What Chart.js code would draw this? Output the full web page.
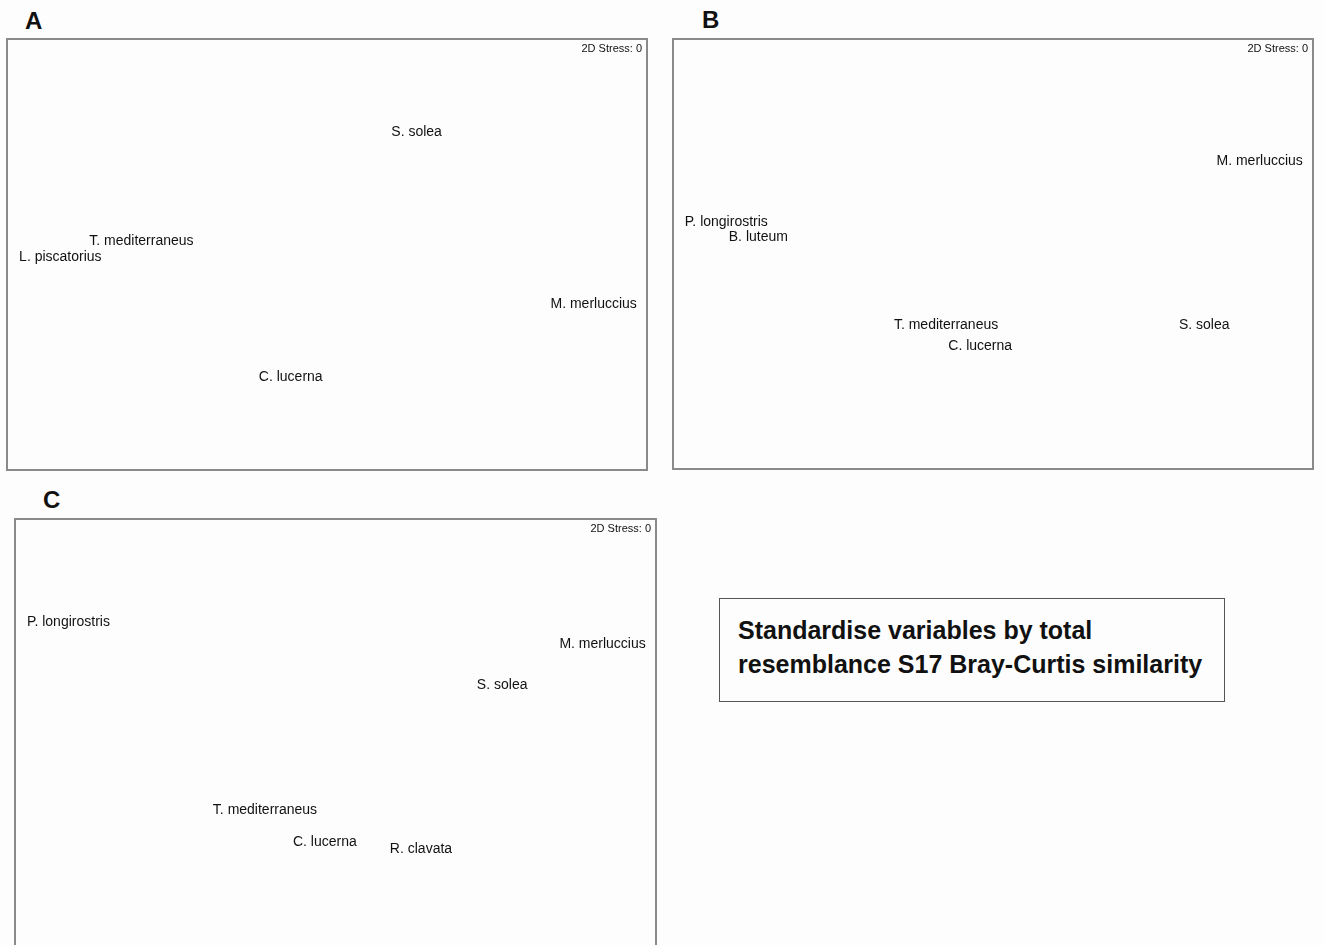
<!DOCTYPE html>
<html>
<head>
<meta charset="utf-8">
<title>nMDS ordinations</title>
<script src="https://cdn.jsdelivr.net/npm/chart.js@4/dist/chart.umd.min.js"></script>
<style>
  html, body { margin: 0; padding: 0; background: #fdfdfd; overflow: hidden; }
  body { width: 1324px; height: 945px; position: relative; font-family: "Liberation Sans", Arial, sans-serif; }
  .panel { position: absolute; }
  .letter { position: absolute; font-weight: bold; font-size: 24px; line-height: 24px; color: #111; }
  .note {
    position: absolute; left: 719px; top: 598px; width: 506px; height: 104px;
    border: 1.5px solid #555; box-sizing: border-box;
    font-weight: bold; font-size: 25px; line-height: 34px; color: #111;
    padding: 14px 0 0 18px; white-space: nowrap;
  }
</style>
</head>
<body>

<div class="letter" style="left:25px; top:9px;">A</div>
<div class="letter" style="left:702px; top:8px;">B</div>
<div class="letter" style="left:43px; top:488px;">C</div>

<div class="panel" style="left:6px; top:38px; width:642px; height:433px;"><canvas id="chartA"></canvas></div>
<div class="panel" style="left:672px; top:38px; width:642px; height:432px;"><canvas id="chartB"></canvas></div>
<div class="panel" style="left:14px; top:518px; width:643px; height:433px;"><canvas id="chartC"></canvas></div>

<div class="note">Standardise variables by total<br>resemblance S17 Bray-Curtis similarity</div>

<script>
// nMDS coordinates per species (dimensionless axes)
const speciesA = ["S. solea", "T. mediterraneus", "L. piscatorius", "M. merluccius", "C. lucerna"];
const mds1A = [0.42, -0.87, -1.25, 1.25, -0.17];
const mds2A = [0.57, 0.06, -0.01, -0.23, -0.57];

const speciesB = ["M. merluccius", "P. longirostris", "B. luteum", "T. mediterraneus", "C. lucerna", "S. solea"];
const mds1B = [1.25, -1.25, -1.10, -0.22, -0.06, 0.99];
const mds2B = [0.43, 0.15, 0.08, -0.33, -0.43, -0.33];

const speciesC = ["P. longirostris", "M. merluccius", "S. solea", "T. mediterraneus", "C. lucerna", "R. clavata"];
const mds1C = [-1.25, 1.25, 0.78, -0.33, -0.05, 0.40];
const mds2C = [0.52, 0.42, 0.23, -0.35, -0.50, -0.53];

const stressText = "2D Stress: 0";

// frame, stress note and species names written at their points
const mdsLabels = {
  id: "mdsLabels",
  afterDatasetsDraw(chart) {
    const ctx = chart.ctx;
    const a = chart.chartArea;
    ctx.save();
    ctx.strokeStyle = "#8a8a8a";
    ctx.lineWidth = 2;
    ctx.strokeRect(a.left, a.top, a.right - a.left, a.bottom - a.top);

    ctx.fillStyle = "#111";
    ctx.font = "11px 'Liberation Sans Narrow', 'Liberation Sans', Arial, sans-serif";
    ctx.textAlign = "right";
    ctx.textBaseline = "middle";
    ctx.fillText(stressText, a.right - 5, a.top + 10);

    ctx.font = "14px 'Liberation Sans', Arial, sans-serif";
    ctx.textAlign = "center";
    const names = chart.data.datasets[0].names;
    chart.getDatasetMeta(0).data.forEach((pt, i) => {
      ctx.fillText(names[i], pt.x, pt.y);
    });
    ctx.restore();
  }
};

function makeChart(id, names, xs, ys) {
  const pts = xs.map((x, i) => ({ x: x, y: ys[i] }));
  return new Chart(document.getElementById(id), {
    type: "scatter",
    data: { datasets: [{ data: pts, names: names, pointRadius: 0, pointHoverRadius: 0 }] },
    options: {
      responsive: true,
      maintainAspectRatio: false,
      animation: false,
      layout: { padding: 1 },
      plugins: { legend: { display: false }, tooltip: { enabled: false } },
      scales: {
        x: { display: false, min: -1.5, max: 1.5 },
        y: { display: false, min: -1.0, max: 1.0 }
      }
    },
    plugins: [mdsLabels]
  });
}

makeChart("chartA", speciesA, mds1A, mds2A);
makeChart("chartB", speciesB, mds1B, mds2B);
makeChart("chartC", speciesC, mds1C, mds2C);
</script>
</body>
</html>
